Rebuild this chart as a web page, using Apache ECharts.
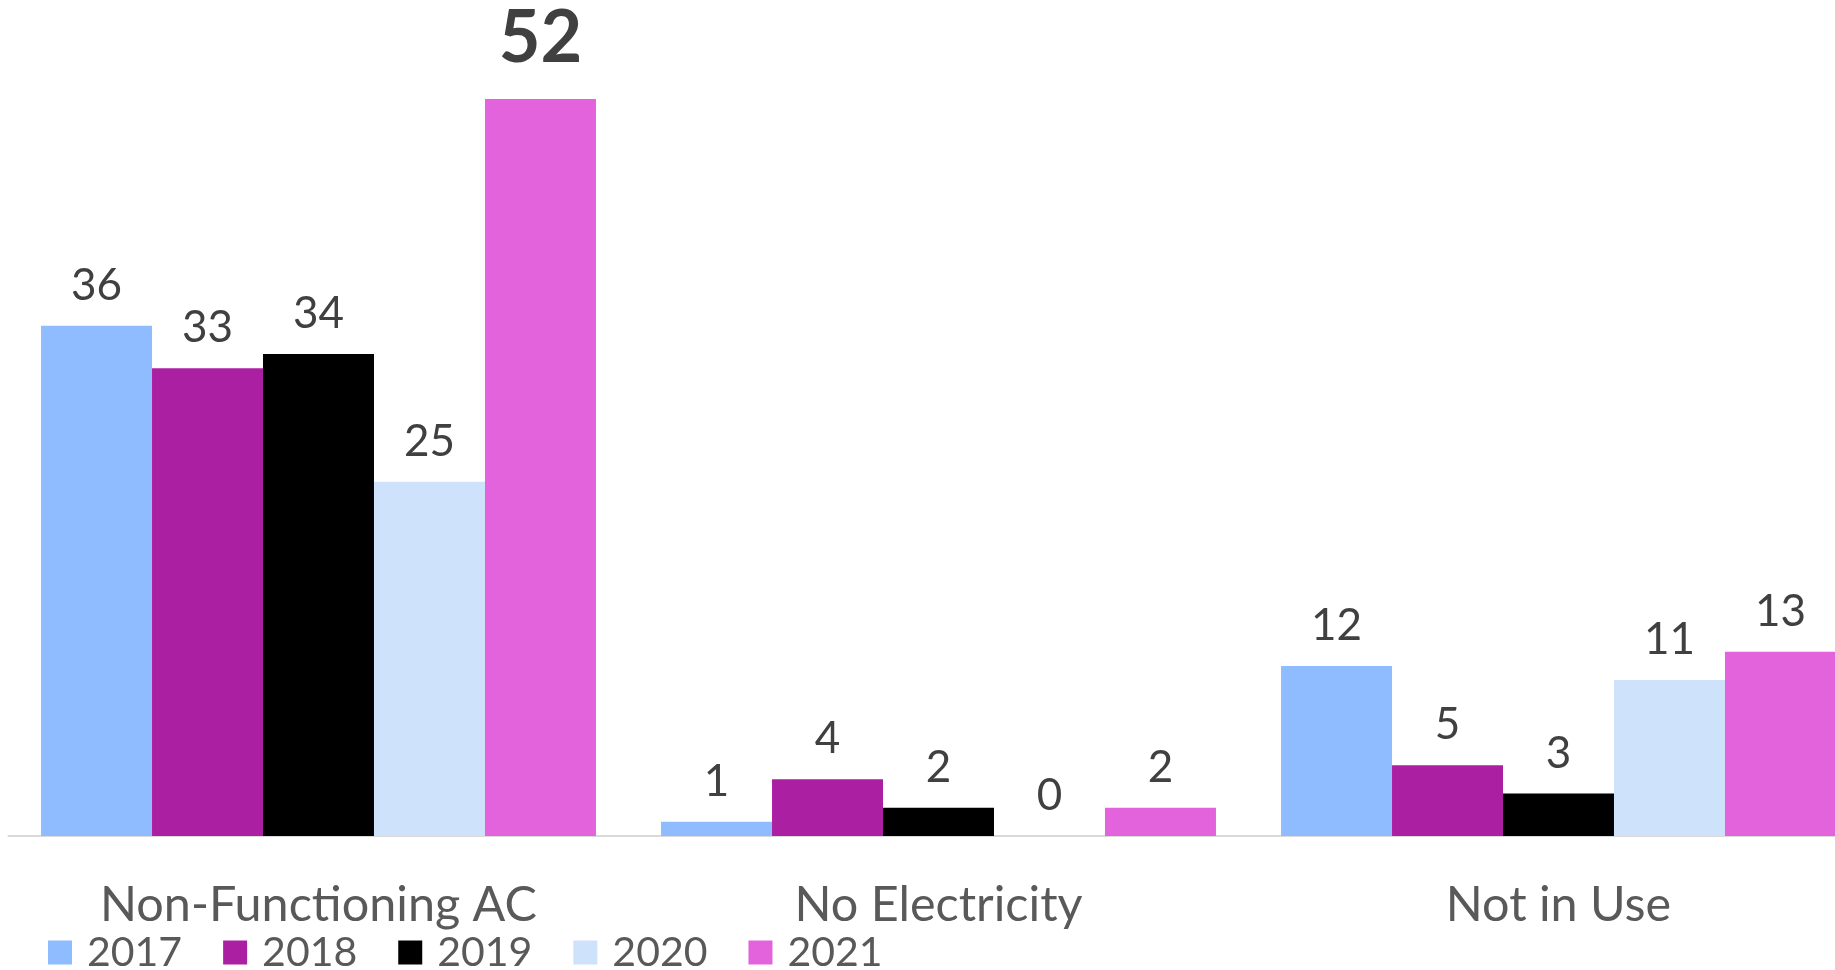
<!DOCTYPE html>
<html>
<head>
<meta charset="utf-8">
<script src="https://cdn.jsdelivr.net/npm/echarts@6/dist/echarts.min.js"></script>
<style>
html,body{margin:0;padding:0;background:#fff;}
#chart{width:1835px;height:970px;}
</style>
</head>
<body>
<div id="chart"></div>
<script>
const categories = ['Non-Functioning AC', 'No Electricity', 'Not in Use'];
const years = ['2017', '2018', '2019', '2020', '2021'];
const v2017 = [36, 1, 12];
const v2018 = [33, 4, 5];
const v2019 = [34, 2, 3];
const v2020 = [25, 0, 11];
const v2021 = [52, 2, 13];
const colors = ['#8FBBFF', '#AB1FA3', '#000000', '#CFE2FB', '#E263DB'];
const highlight = { series: 4, index: 0 };

const FONT = 'Lato';
const values = [v2017, v2018, v2019, v2020, v2021];

const series = years.map((y, si) => ({
  name: y,
  type: 'bar',
  barGap: '0%',
  barCategoryGap: '10.5%',
  itemStyle: { color: colors[si] },
  label: {
    show: true,
    position: 'top',
    distance: 18,
    fontFamily: FONT,
    fontSize: 44,
    color: '#404040'
  },
  data: values[si].map((v, i) => {
    if (si === highlight.series && i === highlight.index) {
      return { value: v, label: { fontSize: 72, fontWeight: 'bold', distance: 24, color: '#404040' } };
    }
    return v;
  })
}));

const chart = echarts.init(document.getElementById('chart'));
chart.setOption({
  animation: false,
  color: colors,
  grid: { left: 8.5, top: 99, width: 1860, bottom: 134, containLabel: false, outerBoundsMode: 'none' },
  legend: {
    data: years,
    left: 43,
    top: 927,
    icon: 'rect',
    itemWidth: 24,
    itemHeight: 24,
    itemGap: 41,
    textStyle: { fontFamily: FONT, fontSize: 41, color: '#595959', padding: [0, 0, 0, 10] }
  },
  xAxis: {
    type: 'category',
    data: categories,
    axisLine: { show: true, lineStyle: { color: '#D9D9D9', width: 2 } },
    axisTick: { show: false },
    axisLabel: { fontFamily: FONT, fontSize: 48.5, color: '#595959', margin: 44, lineHeight: 50 },
    splitLine: { show: false }
  },
  yAxis: {
    type: 'value',
    min: 0,
    max: 52,
    show: false,
    splitLine: { show: false }
  },
  series: series
});
</script>
</body>
</html>
